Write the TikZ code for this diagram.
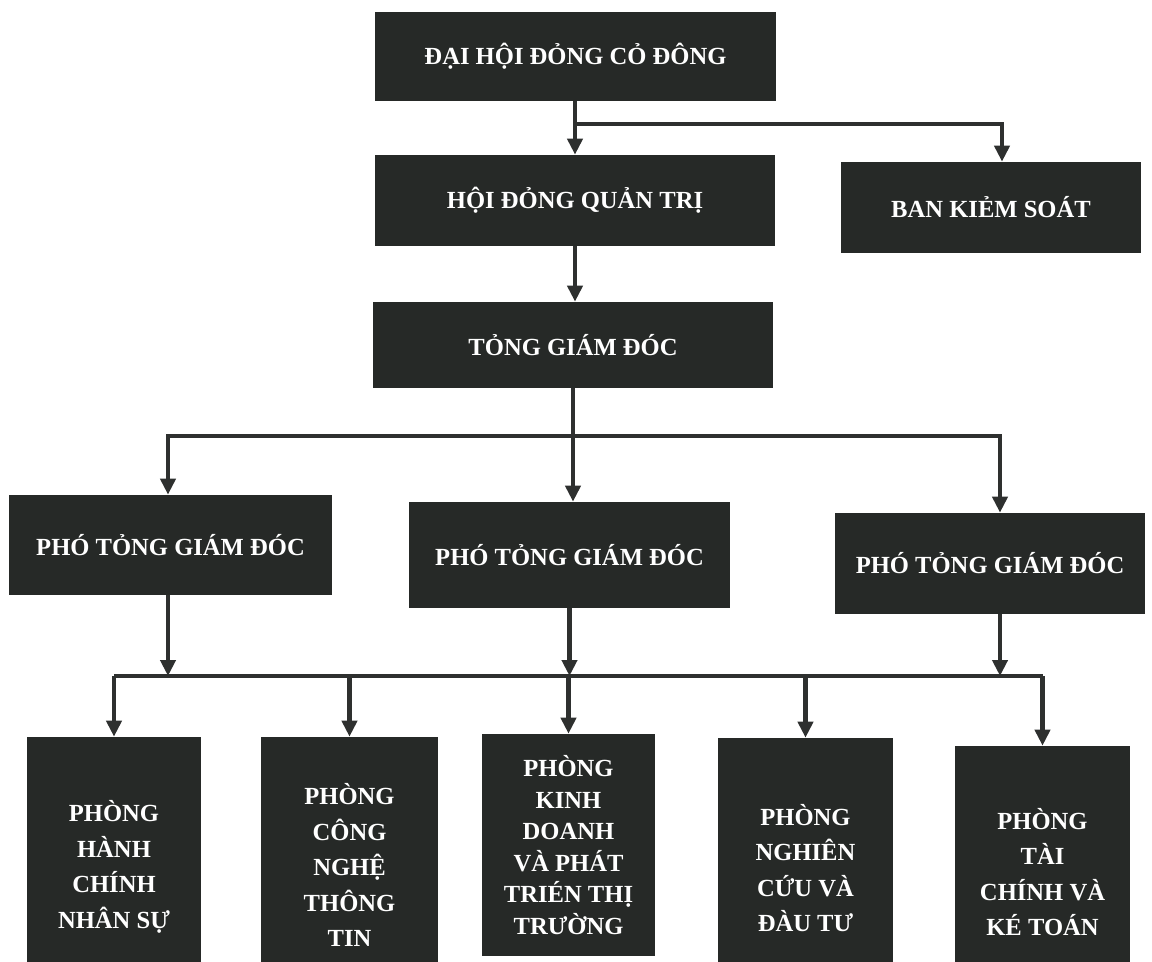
\documentclass[tikz,border=0pt]{standalone}
\usepackage{fontspec}
\setmainfont{Liberation Serif}
\usetikzlibrary{arrows.meta}
\definecolor{boxfill}{HTML}{262927}
\definecolor{linecol}{HTML}{2E302F}
\tikzset{
  unitbox/.style={fill=boxfill, text=white, inner sep=0pt, align=center,
    font=\fontsize{14}{20.2}\selectfont\bfseries},
  bar/.style={draw=linecol, line width=2.4pt},
  conn/.style={bar, -{Triangle[width=0.3cm,length=0.32cm]}}
}
\begin{document}
\begin{tikzpicture}[x=0.02cm,y=-0.02cm]
\useasboundingbox (0,0) rectangle (1152,961);
% top levels
\node[unitbox, minimum width=8.02cm, minimum height=1.78cm] (dhcd) at (575.5,56.5) {ĐẠI HỘI ĐỎNG CỎ ĐÔNG};
\node[unitbox, minimum width=8cm, minimum height=1.82cm] (hdqt) at (575,200.5) {HỘI ĐỎNG QUẢN TRỊ};
\node[unitbox, minimum width=6cm, minimum height=1.82cm] (bks) at (991,207.5) {BAN KIẺM SOÁT};
\node[unitbox, minimum width=8cm, minimum height=1.72cm] (tgd) at (573,345) {TỎNG GIÁM ĐÓC};
% deputies
\node[unitbox, minimum width=6.46cm, minimum height=2cm] (ptgdA) at (170.5,545) {PHÓ TỎNG GIÁM ĐÓC};
\node[unitbox, minimum width=6.42cm, minimum height=2.12cm] (ptgdB) at (569.5,555) {PHÓ TỎNG GIÁM ĐÓC};
\node[unitbox, minimum width=6.2cm, minimum height=2.02cm] (ptgdC) at (990,563.5) {PHÓ TỎNG GIÁM ĐÓC};
% departments
\node[unitbox, minimum width=3.48cm, minimum height=5.2cm] (p1) at (114,867) {PHÒNG\\HÀNH\\CHÍNH\\NHÂN SỰ};
\node[unitbox, minimum width=3.54cm, minimum height=5.12cm] (p2) at (349.5,865) {PHÒNG\\CÔNG\\NGHỆ\\THÔNG\\TIN};
\node[unitbox, minimum width=3.46cm, minimum height=4.44cm, font=\fontsize{14}{17.9}\selectfont\bfseries] (p3) at (568.5,845) {PHÒNG\\KINH\\DOANH\\VÀ PHÁT\\TRIÉN THỊ\\TRƯỜNG};
\node[unitbox, minimum width=3.5cm, minimum height=5.2cm] (p4) at (805.5,868) {PHÒNG\\NGHIÊN\\CỨU VÀ\\ĐÀU TƯ};
\node[unitbox, minimum width=3.5cm, minimum height=5.04cm] (p5) at (1042.5,872) {PHÒNG\\TÀI\\CHÍNH VÀ\\KÉ TOÁN};
% bus points
\coordinate (busA) at (575,124);
\coordinate (busB) at (573,436);
\coordinate (busC) at (569,676);
% connectors
\draw[conn] (hdqt.north |- dhcd.south) -- (hdqt.north);
\draw[conn] (busA) -| ([xshift=0.22cm]bks.north);
\draw[conn] (hdqt.south) -- (hdqt.south |- tgd.north);
\draw[conn] (tgd.south) -- (tgd.south |- ptgdB.north);
\draw[conn] (busB) -| ([xshift=-0.05cm]ptgdA.north);
\draw[conn] (busB) -| ([xshift=0.2cm]ptgdC.north);
\draw[conn] ([xshift=-0.05cm]ptgdA.south) -- ([xshift=-0.05cm]ptgdA.south |- busC);
\draw[conn] (ptgdB.south) -- (ptgdB.south |- busC);
\draw[conn] ([xshift=0.2cm]ptgdC.south) -- ([xshift=0.2cm]ptgdC.south |- busC);
\draw[bar] (p1.north |- busC) -- (p5.north |- busC);
\foreach \p in {p1,p2,p3,p4,p5} % drops to departments
\draw[conn] (\p.north |- busC) -- (\p.north);
\end{tikzpicture}
\end{document}
